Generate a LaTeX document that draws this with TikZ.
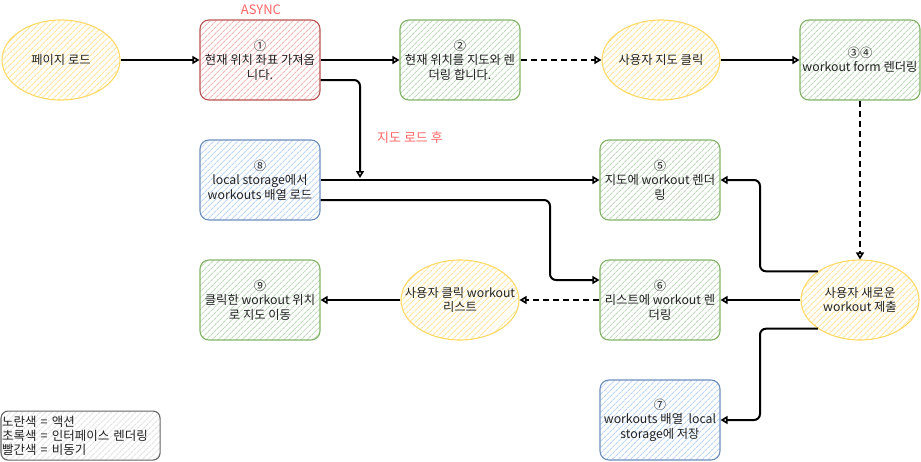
\documentclass[tikz,border=0pt]{standalone}
\usepackage{fontspec}
\setmainfont{Noto Sans CJK KR}
\usetikzlibrary{shapes.geometric,patterns.meta,arrows.meta}
\definecolor{ystroke}{HTML}{FFD966}
\definecolor{yhatch}{HTML}{FFE49A}
\definecolor{gstroke}{HTML}{82B366}
\definecolor{ghatch}{HTML}{BFDBBC}
\definecolor{bstroke}{HTML}{6C8EBF}
\definecolor{bhatch}{HTML}{BDD5F5}
\definecolor{rstroke}{HTML}{B85450}
\definecolor{rhatch}{HTML}{F2B8B5}
\definecolor{lstroke}{HTML}{666666}
\definecolor{lhatch}{HTML}{E3E3E3}
\definecolor{textc}{HTML}{222222}
\definecolor{redtxt}{HTML}{FF6666}
\tikzset{
  base/.style={line width=1.1pt, minimum width=120pt, minimum height=80pt, inner sep=0pt},
  boxs/.style={base, rectangle, rounded corners=9pt, align=center, text=textc, font=\fontsize{12.3}{14.5}\selectfont},
  ells/.style={base, ellipse, minimum width=118pt},
  hatch/.style={pattern={Lines[angle=45,distance=4pt,line width=1.2pt]}, pattern color=#1},
  yel/.style={draw=ystroke, hatch=yhatch},
  grn/.style={draw=gstroke, hatch=ghatch},
  blu/.style={draw=bstroke, hatch=bhatch},
  rdd/.style={draw=rstroke, hatch=rhatch},
  txt/.style={align=center, text=textc, font=\fontsize{12.3}{14.5}\selectfont, inner sep=0pt},
  conn/.style={line width=2pt, -{Triangle[open,length=7pt,width=8pt,line width=1.6pt]}, rounded corners=6pt},
  dconn/.style={conn, dash pattern=on 6pt off 4pt},
  redlab/.style={text=redtxt, font=\fontsize{13}{15}\selectfont, inner sep=0pt},
}
\begin{document}
\begin{tikzpicture}[x=1pt,y=-1pt]
\useasboundingbox (0,0) rectangle (921,461);
% row 1
\node[ells,yel] (load) at (61,60) {};
\node[txt] (tload) at (load.center) {페이지 로드};
\node[boxs,rdd] (n1) at (260,60) {①\\현재 위치 좌표 가져옵\\니다.};
\node[redlab] (async) at (261,10) {ASYNC};
\node[boxs,grn] (n2) at (460,60) {②\\현재 위치를 지도와 렌\\더링 합니다.};
\node[ells,yel] (click) at (661,60) {};
\node[txt] (tclick) at (click.center) {사용자 지도 클릭};
\node[boxs,grn] (n34) at (860,60) {③④\\workout form 렌더링};
% row 2
\node[boxs,blu] (n8) at (260,180) {⑧\\local storage에서\\workouts 배열 로드};
\node[boxs,grn] (n5) at (660,180) {⑤\\지도에 workout 렌더\\링};
\node[redlab] (after) at (410,138) {지도 로드 후};
% row 3
\node[boxs,grn] (n9) at (260,300) {⑨\\클릭한 workout 위치\\로 지도 이동};
\node[ells,yel] (lst) at (460,300) {};
\node[txt] (tlst) at (lst.center) {사용자 클릭 workout\\리스트};
\node[boxs,grn] (n6) at (660,300) {⑥\\리스트에 workout 렌\\더링};
\node[ells,yel] (nw) at (860,300) {};
\node[txt] (tnw) at (nw.center) {사용자 새로운\\workout 제출};
% row 4
\node[boxs,blu] (n7) at (660,420) {⑦\\workouts 배열\ \ local\\storage에 저장};
% legend
\node[draw=lstroke, hatch=lhatch, line width=1.1pt, rounded corners=7pt, anchor=north west,
      minimum width=159pt, minimum height=49pt, text width=157pt, inner sep=1pt,
      align=left, text=textc, font=\fontsize{12.5}{13.8}\selectfont] (legend) at (0.5,410.5)
      {노란색 = 액션\\초록색 = 인터페이스 렌더링\\빨간색 = 비동기};
% coordinates
\coordinate (drop) at (360,178);
\coordinate (bendA) at (550,240);
\coordinate (bendB) at (760,230);
\coordinate (bendC) at (760,380);
% connectors
\draw[conn] (load.east) -- (n1.west);
\draw[conn] (n1.east) -- (n2.west);
\draw[dconn] (n2.east) -- (click.west);
\draw[conn] (click.east) -- (n34.west);
\draw[dconn] (n34.south) -- (nw.north);
\draw[conn] ([yshift=-20pt]n1.east) -| (drop);
\draw[conn] (n8.east) -- (n5.west);
\draw[conn] ([yshift=-20pt]n8.east) -| (bendA) |- ([yshift=20pt]n6.west);
\draw[conn] (nw.north west) -| (bendB) |- (n5.east);
\draw[conn] (nw.west) -- (n6.east);
\draw[conn] (nw.south west) -| (bendC) |- (n7.east);
\draw[dconn] (n6.west) -- (lst.east);
\draw[conn] (lst.west) -- (n9.east);
\end{tikzpicture}
\end{document}
